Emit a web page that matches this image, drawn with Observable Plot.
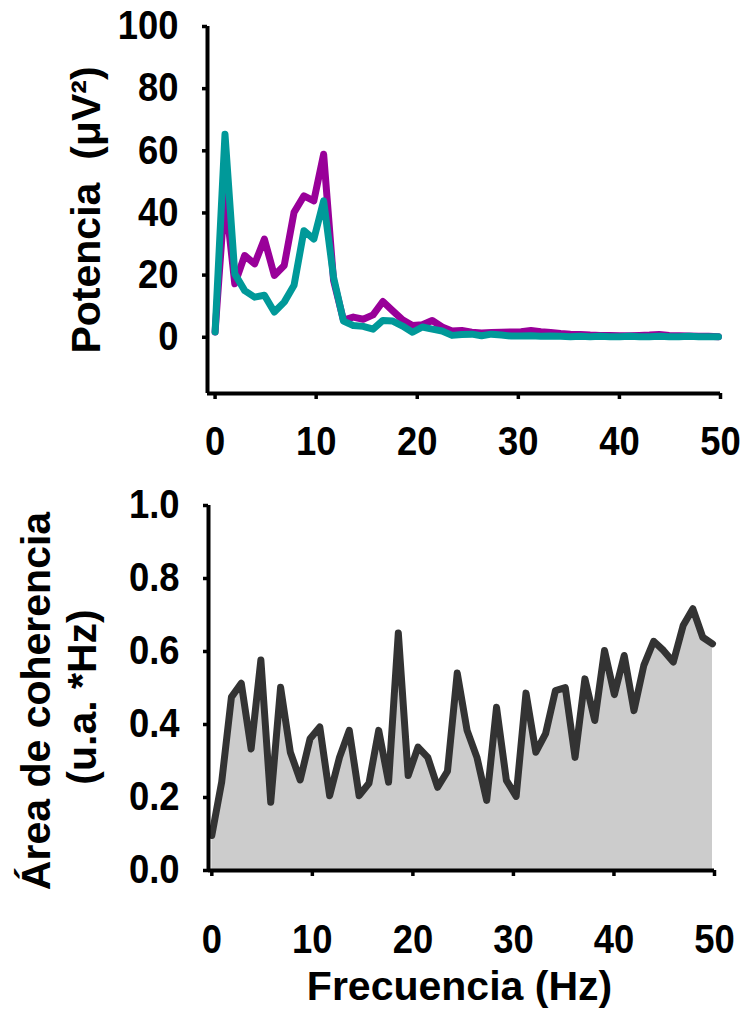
<!DOCTYPE html>
<html>
<head>
<meta charset="utf-8">
<script src="https://cdn.jsdelivr.net/npm/d3@7"></script>
<script src="https://cdn.jsdelivr.net/npm/@observablehq/plot@0.6"></script>
<style>
  html, body { margin: 0; padding: 0; background: white; }
  #chart svg { display: block; }
</style>
</head>
<body>
<div id="chart"></div>
<script>
// Frequencies (Hz) of the spectral bins
const freqs = [0, 0.98, 1.95, 2.93, 3.91, 4.88, 5.86, 6.84, 7.81, 8.79, 9.77, 10.74, 11.72,
  12.70, 13.67, 14.65, 15.63, 16.60, 17.58, 18.55, 19.53, 20.51, 21.48, 22.46, 23.44, 24.41,
  25.39, 26.37, 27.34, 28.32, 29.30, 30.27, 31.25, 32.23, 33.20, 34.18, 35.16, 36.13, 37.11,
  38.09, 39.06, 40.04, 41.02, 41.99, 42.97, 43.95, 44.92, 45.90, 46.88, 47.85, 48.83, 49.80];

// Power (µV²) – purple series
const powerPurple = [1.7, 46, 17.2, 26.3, 23.6, 31.6, 19.9, 23.1, 40.2, 45.5, 43.9, 58.9, 18.3,
  5.5, 6.5, 5.8, 7.2, 11.5, 8.5, 5.6, 3.8, 4.0, 5.4, 3.3, 2.0, 2.2,
  1.6, 1.4, 1.5, 1.6, 1.7, 1.8, 2.2, 1.8, 1.5, 1.2, 1.0, 0.9, 0.7,
  0.6, 0.6, 0.5, 0.5, 0.6, 0.7, 0.9, 0.6, 0.5, 0.4, 0.3, 0.3, 0.2];

// Power (µV²) – teal series
const powerTeal = [1.7, 65.3, 20.4, 15.0, 12.9, 13.5, 8.1, 11.3, 16.7, 34.3, 31.6, 43.9, 19.3,
  5.2, 3.8, 3.5, 2.6, 5.4, 5.2, 3.6, 1.6, 3.3, 2.6, 2.0, 0.6, 0.9,
  1.0, 0.5, 1.0, 0.7, 0.4, 0.4, 0.5, 0.3, 0.4, 0.3, 0.2, 0.3, 0.2,
  0.3, 0.2, 0.2, 0.3, 0.2, 0.2, 0.3, 0.2, 0.2, 0.3, 0.2, 0.2, 0.2];

// Coherence area (u.a.*Hz)
const coherence = [0.096, 0.242, 0.475, 0.513, 0.333, 0.577, 0.187, 0.502, 0.324, 0.248,
  0.361, 0.393, 0.205, 0.310, 0.384, 0.205, 0.239, 0.384, 0.242, 0.651,
  0.260, 0.338, 0.310, 0.228, 0.272, 0.541, 0.384, 0.310, 0.192, 0.447,
  0.247, 0.203, 0.486, 0.324, 0.375, 0.493, 0.501, 0.310, 0.525, 0.411,
  0.603, 0.482, 0.589, 0.438, 0.562, 0.628, 0.603, 0.571, 0.671, 0.717,
  0.639, 0.621];

const xTicks = [0, 10, 20, 30, 40, 50];
const powerTicks = [0, 20, 40, 60, 80, 100];
const cohTicks = [0, 0.2, 0.4, 0.6, 0.8, 1.0];

const titlePower = "Potencia\u00a0 (μV²)";
const titleCoh1 = "Área de coherencia";
const titleCoh2 = "(u.a. *Hz)";
const titleX = "Frecuencia (Hz)";

const purpleData = freqs.map((f, i) => ({f, v: powerPurple[i]}));
const tealData = freqs.map((f, i) => ({f, v: powerTeal[i]}));
const cohData = freqs.map((f, i) => ({f, v: coherence[i]}));

const font = "'Liberation Sans', Arial, sans-serif";
const baseStyle = {fontFamily: font, fontSize: "40px", fontWeight: "bold", color: "black", background: "white", overflow: "visible"};
const titleOpts = {text: d => d, textAnchor: "middle", fontSize: 41, fontWeight: "bold", fill: "black"};
const lineOpts = {x: "f", y: "v", strokeWidth: 7, strokeLinejoin: "round", strokeLinecap: "round"};

const topChart = Plot.plot({
  width: 743,
  height: 470,
  marginTop: 26,
  marginBottom: 77,
  marginLeft: 207,
  marginRight: 23,
  style: baseStyle,
  x: {domain: [-0.75, 50]},
  y: {domain: [-18.1, 100]},
  marks: [
    Plot.line(purpleData, {...lineOpts, stroke: "#990099"}),
    Plot.line(tealData, {...lineOpts, stroke: "#009999"}),
    Plot.ruleX([-0.75], {stroke: "black", strokeWidth: 4}),
    Plot.ruleY([-18.1], {stroke: "black", strokeWidth: 4}),
    Plot.axisY({ticks: powerTicks, tickSize: 5, tickPadding: 24, strokeWidth: 3.5, label: null, tickFormat: d3.format("d")}),
    Plot.axisX({ticks: xTicks, tickSize: 6, tickPadding: 27, strokeWidth: 3.5, label: null, tickFormat: d3.format("d")}),
    Plot.text([titlePower], {...titleOpts, frameAnchor: "left", dx: -121, rotate: -90})
  ]
});

const bottomChart = Plot.plot({
  width: 743,
  height: 539,
  marginTop: 35,
  marginBottom: 139,
  marginLeft: 208,
  marginRight: 29,
  style: baseStyle,
  x: {domain: [-0.33, 50]},
  y: {domain: [0, 1]},
  marks: [
    Plot.areaY(cohData, {x: "f", y: "v", fill: "#cccccc"}),
    Plot.line(cohData, {...lineOpts, stroke: "#333333"}),
    Plot.ruleX([-0.33], {stroke: "black", strokeWidth: 4}),
    Plot.ruleY([0], {stroke: "black", strokeWidth: 4}),
    Plot.axisY({ticks: cohTicks, tickSize: 5, tickPadding: 24, strokeWidth: 3.5, label: null, tickFormat: d3.format(".1f")}),
    Plot.axisX({ticks: xTicks, tickSize: 6, tickPadding: 48, strokeWidth: 3.5, label: null, tickFormat: d3.format("d")}),
    Plot.text([titleCoh1], {...titleOpts, frameAnchor: "left", dx: -172, dy: 13, rotate: -90}),
    Plot.text([titleCoh2], {...titleOpts, frameAnchor: "left", dx: -126, dy: 9, rotate: -90}),
    Plot.text([titleX], {...titleOpts, frameAnchor: "bottom", lineAnchor: "top", dy: 100, dx: -2})
  ]
});

document.getElementById("chart").append(topChart, bottomChart);

// The reference uses slightly condensed digits for tick labels
d3.selectAll('#chart g[aria-label$="tick label"] text').each(function () {
  const L = this.getComputedTextLength();
  this.setAttribute("textLength", (L * 0.91).toFixed(1));
  this.setAttribute("lengthAdjust", "spacingAndGlyphs");
});
</script>
</body>
</html>
